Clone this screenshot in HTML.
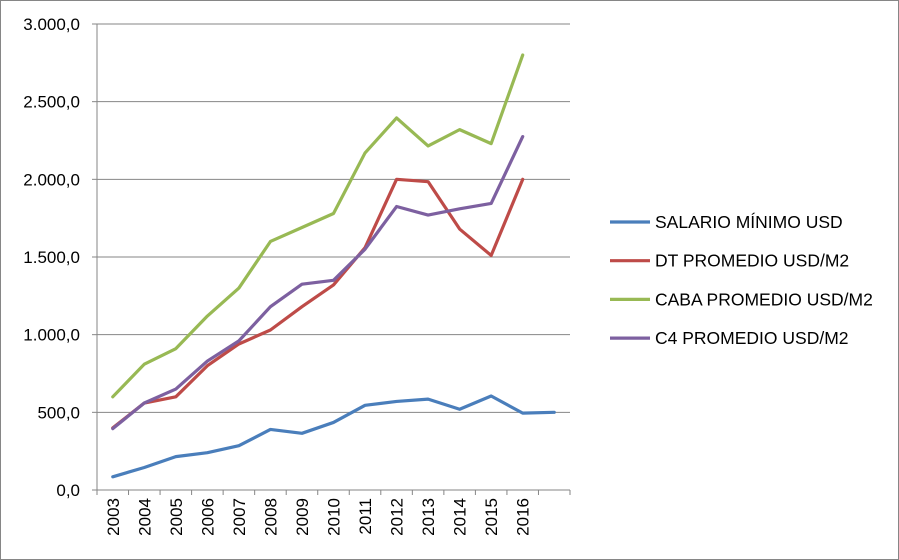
<!DOCTYPE html>
<html><head><meta charset="utf-8"><style>
body{margin:0;background:#fff}
svg{display:block;font-family:"Liberation Sans",sans-serif}
</style></head><body>
<svg id="chart" width="899" height="560">
<rect x="0.5" y="0.5" width="898" height="559" fill="#fff" stroke="#868686"/>
<g id="grid"></g><g id="axes"></g><g id="series"></g><g id="legend"></g>
</svg>
<script>
const categories=["2003","2004","2005","2006","2007","2008","2009","2010","2011","2012","2013","2014","2015","2016",""];
const salario=[85,145,215,240,285,390,365,435,545,570,585,520,605,495,500];
const dt=[400,560,600,800,940,1030,1180,1320,1560,2000,1985,1680,1510,2000];
const caba=[600,810,910,1120,1300,1600,1690,1780,2170,2395,2215,2320,2230,2800];
const c4=[395,560,650,830,960,1180,1325,1350,1550,1825,1770,1810,1845,2275];
const yTicks=[0,500,1000,1500,2000,2500,3000];
const yTickLabels=["0,0","500,0","1.000,0","1.500,0","2.000,0","2.500,0","3.000,0"];
const seriesNames=["SALARIO MÍNIMO USD","DT PROMEDIO USD/M2","CABA PROMEDIO USD/M2","C4 PROMEDIO USD/M2"];
const seriesColors=["#4a7ebb","#be4b48","#98b954","#7d60a0"];
const NS="http://www.w3.org/2000/svg";
const L=97,R=570,T=24,B=490,MAX=3000;
const step=(R-L)/categories.length;
const x=i=>L+step*(i+0.5);
const y=v=>B-(v/MAX)*(B-T);
function mk(tag,attrs,parent){const e=document.createElementNS(NS,tag);for(const k in attrs)e.setAttribute(k,attrs[k]);parent.appendChild(e);return e;}
const grid=document.getElementById('grid'),axes=document.getElementById('axes'),ser=document.getElementById('series'),leg=document.getElementById('legend');
yTicks.forEach((t,i)=>{
 if(t>0){const g=mk('line',{x1:L,x2:R,y1:y(t),y2:y(t),stroke:'#868686','stroke-width':1},grid);
 
 }
 const tk=mk('line',{x1:L-5,x2:L,y1:y(t),y2:y(t),stroke:'#868686'},axes);
 
 
 const tx=mk('text',{x:L-17,y:y(t)+6,'text-anchor':'end','font-size':17,fill:'#000'},axes);
 tx.textContent=yTickLabels[i];
 
 
});
const ya=mk('line',{x1:L,x2:L,y1:T,y2:B,stroke:'#868686'},axes);


const xa=mk('line',{x1:L,x2:R,y1:B,y2:B,stroke:'#868686'},axes);


for(let i=0;i<=categories.length;i++){
 const tk=mk('line',{x1:L+step*i,x2:L+step*i,y1:B,y2:B+5,stroke:'#868686'},axes);
 
 
}
categories.forEach((c,i)=>{
 if(!c)return;
 const tx=mk('text',{transform:`translate(${x(i)+6},${B+8}) rotate(-90)`,'text-anchor':'end','font-size':17,fill:'#000'},axes);
 tx.textContent=c;
 
 
});
[salario,dt,caba,c4].forEach((d,s)=>{
 const p=mk('polyline',{points:d.map((v,i)=>x(i)+','+y(v)).join(' '),fill:'none',stroke:seriesColors[s],'stroke-width':3.2,'stroke-linejoin':'round','stroke-linecap':'round'},ser);
 
 
 const ly=222+s*38.7;
 const ll=mk('line',{x1:610,x2:650,y1:ly,y2:ly,stroke:seriesColors[s],'stroke-width':3.2},leg);
 
 
 const lt=mk('text',{x:655,y:ly+6,'font-size':17.5,fill:'#000'},leg);
 lt.textContent=seriesNames[s];
 
 
});
</script>
</body></html>
